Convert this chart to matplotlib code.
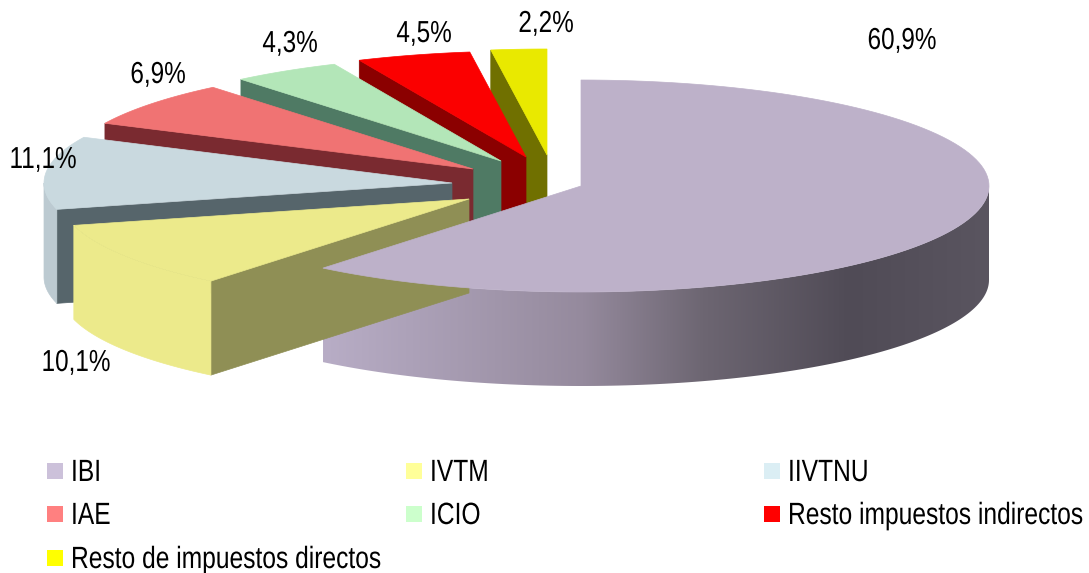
import matplotlib
matplotlib.use('Agg')
import matplotlib.pyplot as plt
from matplotlib.patches import Polygon, Rectangle
from matplotlib.patheffects import AbstractPathEffect
from matplotlib.transforms import Affine2D
from matplotlib.colors import LinearSegmentedColormap
import numpy as np

plt.rcParams['font.family'] = ['Liberation Sans', 'DejaVu Sans']

names = ['IBI', 'IVTM', 'IIVTNU', 'IAE', 'ICIO', 'Resto impuestos indirectos', 'Resto de impuestos directos']
shares = [60.9, 10.1, 11.1, 6.9, 4.3, 4.5, 2.2]

top_colors = ['#bdb1c9', '#ecea8b', '#c9d9df', '#f07373', '#b3e6b8', '#fb0000', '#e9e900']
side_colors = ['#b8adc6', '#ecea8b', '#bccad1', '#7a2a30', '#4f7a64', '#8b0000', '#707000']
wall_colors = ['#8f8a9c', '#8f8f55', '#56656b', '#7a2a30', '#4f7a64', '#8b0000', '#707000']
legend_colors = ['#ccc1da', '#ffff99', '#dbeef4', '#ff8080', '#ccffcc', '#ff0000', '#ffff00']

# pie geometry in pixels
RX, RY, DEPTH = 408, 106, 94
apexes = [(581, 186), (469, 199), (452, 183), (473, 169), (501, 161), (526, 157), (547, 155)]
label_pos = [(902, 49), (76, 371), (43, 168), (158, 83), (290, 52), (424, 42), (546, 32)]
wall_stops = [(0.0, '#b8adc6'), (0.39, '#958a9d'), (0.57, '#6d6672'), (0.79, '#504b56'), (1.0, '#5a5560')]


class TallText(AbstractPathEffect):
    # the reference text is squeezed sideways, so stretch it up from its baseline
    def __init__(self, factor):
        super().__init__()
        self.factor = factor

    def draw_path(self, renderer, gc, tpath, affine, rgbFace=None):
        y0 = affine.get_matrix()[1, 2]
        stretch = Affine2D().translate(0, -y0).scale(1, self.factor).translate(0, y0)
        renderer.draw_path(gc, tpath, affine + stretch, rgbFace)


def rim(apex, a0, a1, n=120):
    t = np.radians(np.linspace(a0, a1, n))
    return apex[0] + RX * np.sin(t), apex[1] - RY * np.cos(t)


def draw_slice(axis, i, a0, a1):
    apex = apexes[i]
    # wall along the first radius, only seen on the left half
    if a0 > 180:
        x, y = rim(apex, a0, a0, 1)
        pts = [apex, (x[0], y[0]), (x[0], y[0] + DEPTH), (apex[0], apex[1] + DEPTH)]
        axis.add_patch(Polygon(pts, fc=wall_colors[i], ec=wall_colors[i], lw=0.5))
    # outer wall, front part only
    lo, hi = max(a0, 90), min(a1, 270)
    if lo < hi:
        x, y = rim(apex, lo, hi)
        pts = np.vstack([np.column_stack([x, y]), np.column_stack([x[::-1], y[::-1] + DEPTH])])
        if i == 0:
            patch = Polygon(pts, fc='none', ec='none')
            axis.add_patch(patch)
            cmap = LinearSegmentedColormap.from_list('wall', wall_stops)
            img = axis.imshow(np.linspace(0, 1, 256).reshape(1, -1), cmap=cmap, aspect='auto',
                              extent=(x.min(), x.max(), y.max() + DEPTH, y.min()), vmin=0, vmax=1)
            img.set_clip_path(patch)
        else:
            axis.add_patch(Polygon(pts, fc=side_colors[i], ec=side_colors[i], lw=0.5))
    x, y = rim(apex, a0, a1)
    pts = np.vstack([[apex], np.column_stack([x, y])])
    axis.add_patch(Polygon(pts, fc=top_colors[i], ec=top_colors[i], lw=0.5))


fig = plt.figure(figsize=(10.89, 5.73), dpi=100)
axis = fig.add_axes([0, 0, 1, 1])

edges = np.cumsum([0] + shares) / sum(shares) * 360
for i in range(len(shares) - 1, -1, -1):
    draw_slice(axis, i, edges[i], edges[i + 1])

tall = [TallText(1.25)]
for share, (x, y) in zip(shares, label_pos):
    axis.text(x, y, f'{share:.1f}'.replace('.', ',') + '%', ha='center', va='baseline',
              fontsize=17.5, color='black', path_effects=tall)

# legend, three columns
col_x = [47, 406, 764]
row_y = [463, 506, 550]
for i, name in enumerate(names):
    x, y = col_x[i % 3], row_y[i // 3]
    axis.add_patch(Rectangle((x, y), 16, 16, fc=legend_colors[i], ec='none'))
    axis.text(x + 24, y + 18, name, ha='left', va='baseline', fontsize=17.7, color='black', path_effects=tall)

axis.set_xlim(0, 1089)
axis.set_ylim(573, 0)
axis.axis('off')
fig.savefig('out.png', dpi=100)
